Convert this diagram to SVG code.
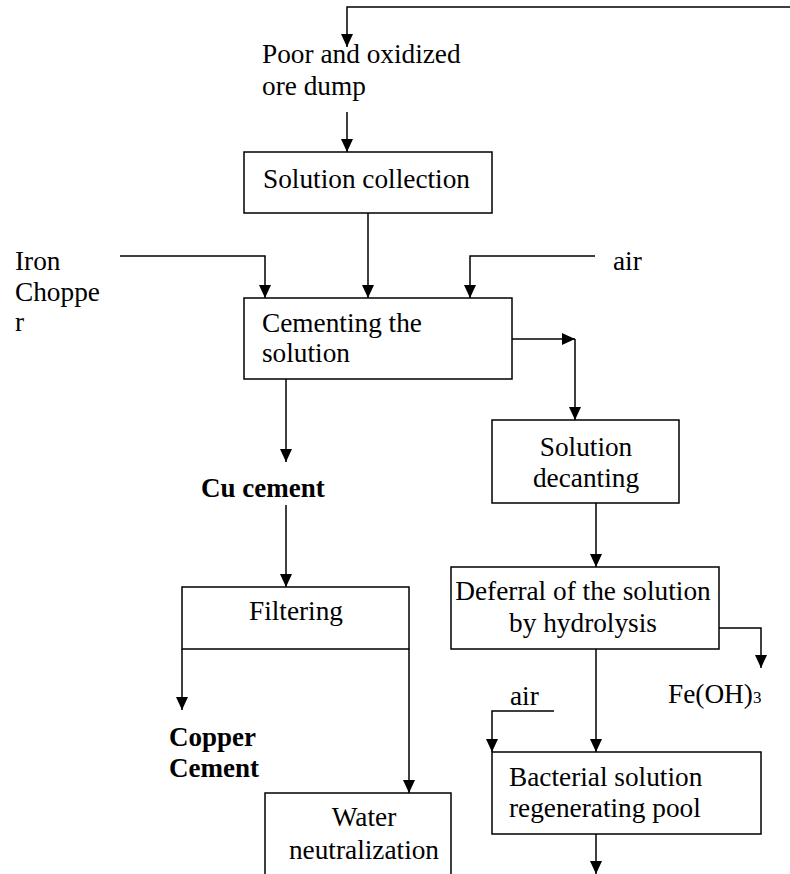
<svg xmlns="http://www.w3.org/2000/svg" width="790" height="874" viewBox="0 0 790 874">
  <style>
    .box { fill: #ffffff; stroke: #000000; stroke-width: 1.5; }
    .wire { fill: none; stroke: #000000; stroke-width: 1.5; }
    .arr { marker-end: url(#head); }
    text { font-family: "Liberation Serif", "Times New Roman", serif; font-size: 27.3px; fill: #000000; }
    .c { text-anchor: middle; }
    .b { font-weight: bold; font-size: 27px; }
  </style>
  <defs>
    <marker id="head" viewBox="0 0 13 12" refX="13" refY="6" markerWidth="13" markerHeight="12" markerUnits="userSpaceOnUse" orient="auto">
      <path d="M0,0 L13,6 L0,12 Z" fill="#000000"/>
    </marker>
  </defs>
  <rect width="790" height="874" fill="#ffffff"/>

  <!-- connectors -->
  <g id="connectors">
    <polyline class="wire arr" points="790,7 347,7 347,47"/>
    <line class="wire arr" x1="347" y1="112" x2="347" y2="152"/>
    <line class="wire arr" x1="368" y1="213" x2="368" y2="298"/>
    <polyline class="wire arr" points="120,256 265,256 265,298"/>
    <polyline class="wire arr" points="595,256 470,256 470,298"/>
    <line class="wire arr" x1="512" y1="339" x2="575" y2="339"/>
    <line class="wire arr" x1="575" y1="339" x2="575" y2="420"/>
    <line class="wire arr" x1="286" y1="379" x2="286" y2="462"/>
    <line class="wire arr" x1="286" y1="505" x2="286" y2="587"/>
    <line class="wire arr" x1="182" y1="649" x2="182" y2="710"/>
    <line class="wire arr" x1="409" y1="649" x2="409" y2="793"/>
    <line class="wire arr" x1="596" y1="503" x2="596" y2="567"/>
    <polyline class="wire arr" points="719,628 761,628 761,668"/>
    <line class="wire arr" x1="596" y1="649" x2="596" y2="752"/>
    <polyline class="wire arr" points="554,711 492,711 492,752"/>
    <line class="wire arr" x1="596" y1="834" x2="596" y2="874"/>
    <line x1="719" y1="814" x2="761" y2="814" stroke="#8a8a8a" stroke-width="1.5"/>
  </g>

  <!-- feed and product labels -->
  <g id="ore-dump">
    <text x="262" y="63">Poor and oxidized</text>
    <text x="262" y="95">ore dump</text>
  </g>
  <g id="iron-chopper">
    <text x="15" y="270">Iron</text>
    <text x="15" y="301">Choppe</text>
    <text x="15" y="331">r</text>
  </g>
  <g id="air-1">
    <text x="613" y="270">air</text>
  </g>
  <g id="cu-cement">
    <text class="b" x="201" y="497">Cu cement</text>
  </g>
  <g id="copper-cement">
    <text class="b" x="169" y="746">Copper</text>
    <text class="b" x="169" y="777">Cement</text>
  </g>
  <g id="feoh3">
    <text x="668" y="703">Fe(OH)<tspan font-size="17">3</tspan></text>
  </g>
  <g id="air-2">
    <text x="510" y="705">air</text>
  </g>

  <!-- process steps -->
  <g id="solution-collection">
    <rect class="box" x="244" y="152" width="248" height="61"/>
    <text x="263" y="188">Solution collection</text>
  </g>
  <g id="cementing">
    <rect class="box" x="244" y="298" width="268" height="81"/>
    <text x="262" y="332">Cementing the</text>
    <text x="262" y="362">solution</text>
  </g>
  <g id="decanting">
    <rect class="box" x="492" y="420" width="187" height="83"/>
    <text class="c" x="586" y="456">Solution</text>
    <text class="c" x="586" y="487">decanting</text>
  </g>
  <g id="filtering">
    <rect class="box" x="182" y="587" width="227" height="62"/>
    <text class="c" x="296" y="620">Filtering</text>
  </g>
  <g id="deferral">
    <rect class="box" x="451" y="567" width="268" height="82"/>
    <text class="c" x="583" y="600">Deferral of the solution</text>
    <text class="c" x="583" y="632">by hydrolysis</text>
  </g>
  <g id="bacterial-pool">
    <rect class="box" x="492" y="752" width="269" height="82"/>
    <text x="509" y="786">Bacterial solution</text>
    <text x="509" y="817">regenerating pool</text>
  </g>
  <g id="water-neutralization">
    <rect class="box" x="265" y="793" width="186" height="100"/>
    <text class="c" x="364" y="826">Water</text>
    <text class="c" x="364" y="859">neutralization</text>
  </g>
</svg>
